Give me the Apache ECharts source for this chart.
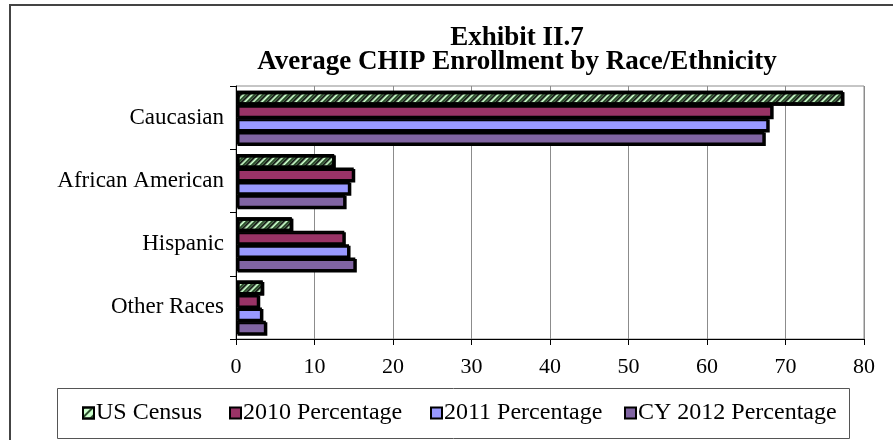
<!DOCTYPE html>
<html>
<head>
<meta charset="utf-8">
<script src="https://cdn.jsdelivr.net/npm/echarts@6/dist/echarts.min.js"></script>
<style>html,body{margin:0;padding:0;background:#fff}#c{width:893px;height:440px}</style>
</head>
<body>
<div id="c"></div>
<script>
const categories = ['Caucasian', 'African American', 'Hispanic', 'Other Races'];
const seriesNames = ['US Census', '2010 Percentage', '2011 Percentage', 'CY 2012 Percentage'];
const usCensus = [77.3, 12.5, 7.1, 3.4];
const pct2010 = [68.3, 15.0, 13.8, 2.9];
const pct2011 = [67.8, 14.5, 14.4, 3.3];
const pct2012 = [67.3, 13.9, 15.2, 3.8];
const xTicks = [0, 10, 20, 30, 40, 50, 60, 70, 80];

const serif = '"Liberation Serif", "DejaVu Serif", serif';
const colors = ['#ccffcc', '#993366', '#9999ff', '#8064a2'];
const values = [usCensus, pct2010, pct2011, pct2012];

const chart = echarts.init(document.getElementById('c'), null, {renderer: 'canvas'});

const series = seriesNames.map((name, i) => {
  const itemStyle = {
    color: colors[i],
    borderColor: '#000',
    borderWidth: 2,
    shadowColor: '#000',
    shadowOffsetX: 1.5,
    shadowOffsetY: 1.5,
    shadowBlur: 0
  };
  if (i === 0) {
    itemStyle.decal = {
      symbol: 'rect',
      symbolSize: 1,
      dashArrayX: [[1, 0]],
      dashArrayY: [1.5, 3.5],
      rotation: -Math.PI / 4,
      color: '#2b4d2b'
    };
  }
  return {
    name: name,
    type: 'bar',
    data: values[i],
    barGap: '0%',
    barCategoryGap: '15%',
    itemStyle: itemStyle,
    emphasis: {disabled: true}
  };
});

const legendX = [82, 229, 430, 624];
const legends = seriesNames.map((name, i) => ({
  data: [name],
  left: legendX[i],
  top: 401,
  padding: 0,
  itemWidth: 11,
  itemHeight: 11,
  icon: 'rect',
  selectedMode: false,
  itemStyle: {borderWidth: 2, borderColor: '#000', shadowBlur: 0, shadowOffsetX: 0, shadowOffsetY: 0},
  textStyle: {fontFamily: serif, fontSize: 24, color: '#000', padding: [0, 0, 0, -3]}
}));

chart.setOption({
  animation: false,
  backgroundColor: '#fff',
  title: {
    text: 'Exhibit II.7\nAverage CHIP Enrollment by Race/Ethnicity',
    left: 517,
    top: 26,
    textAlign: 'center',
    padding: 0,
    textStyle: {fontFamily: serif, fontSize: 27, fontWeight: 'bold', color: '#000', lineHeight: 24}
  },
  legend: legends,
  grid: {
    left: 236, right: 29, top: 86, bottom: 101,
    show: true, borderColor: '#8c8c8c', borderWidth: 1
  },
  xAxis: {
    type: 'value',
    min: xTicks[0],
    max: xTicks[xTicks.length - 1],
    interval: 10,
    axisLine: {show: true, onZero: false, lineStyle: {color: '#000', width: 1}},
    axisTick: {show: true, length: 6, lineStyle: {color: '#000'}},
    axisLabel: {fontFamily: serif, fontSize: 22, color: '#000', margin: 17},
    splitLine: {show: true, lineStyle: {color: '#8c8c8c', width: 1}}
  },
  yAxis: {
    type: 'category',
    data: categories,
    inverse: true,
    axisLine: {show: true, lineStyle: {color: '#000', width: 1}},
    axisTick: {show: true, length: 6, lineStyle: {color: '#000'}},
    axisLabel: {fontFamily: serif, fontSize: 23, color: '#000', margin: 12},
    splitLine: {show: false}
  },
  graphic: [
    {type: 'rect', shape: {x: 10, y: 5, width: 900, height: 500}, style: {fill: 'none', stroke: '#444', lineWidth: 2}, silent: true, z: -1},
    {type: 'rect', shape: {x: 57.5, y: 388.5, width: 792, height: 50}, style: {fill: 'none', stroke: '#555', lineWidth: 1}, silent: true}
  ],
  series: series
});
</script>
</body>
</html>
